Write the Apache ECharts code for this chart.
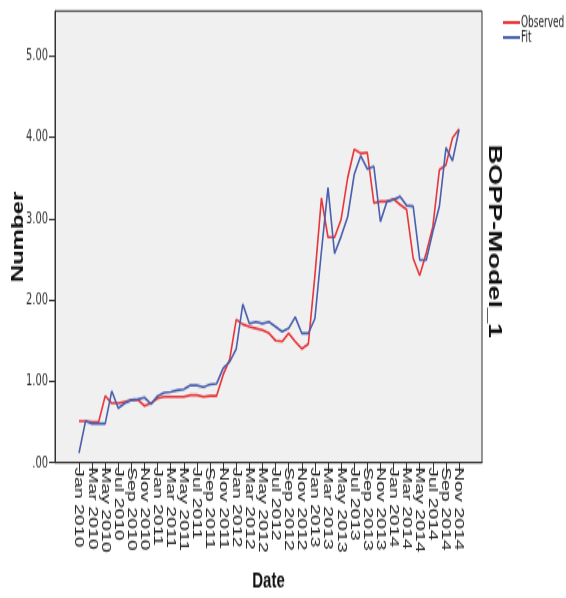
<!DOCTYPE html>
<html><head><meta charset="utf-8">
<script src="https://cdn.jsdelivr.net/npm/echarts@6/dist/echarts.min.js"></script>
<style>
html,body{margin:0;padding:0;background:#fff;overflow:hidden;width:566px;height:598px}
#wrap{width:566px;height:399px;transform:scaleY(1.4987);transform-origin:0 0}
</style></head><body><div id="wrap"></div>
<script>
const dates = ["Jan 2010","Feb 2010","Mar 2010","Apr 2010","May 2010","Jun 2010","Jul 2010","Aug 2010","Sep 2010","Oct 2010","Nov 2010","Dec 2010",
"Jan 2011","Feb 2011","Mar 2011","Apr 2011","May 2011","Jun 2011","Jul 2011","Aug 2011","Sep 2011","Oct 2011","Nov 2011","Dec 2011",
"Jan 2012","Feb 2012","Mar 2012","Apr 2012","May 2012","Jun 2012","Jul 2012","Aug 2012","Sep 2012","Oct 2012","Nov 2012","Dec 2012",
"Jan 2013","Feb 2013","Mar 2013","Apr 2013","May 2013","Jun 2013","Jul 2013","Aug 2013","Sep 2013","Oct 2013","Nov 2013","Dec 2013",
"Jan 2014","Feb 2014","Mar 2014","Apr 2014","May 2014","Jun 2014","Jul 2014","Aug 2014","Sep 2014","Oct 2014","Nov 2014"];
const observed = [0.51,0.51,0.50,0.50,0.82,0.73,0.73,0.75,0.77,0.77,0.70,0.73,
0.79,0.81,0.81,0.81,0.81,0.83,0.83,0.81,0.82,0.82,1.08,1.27,
1.76,1.70,1.67,1.65,1.63,1.59,1.50,1.49,1.59,1.49,1.40,1.46,
2.30,3.25,2.77,2.77,2.99,3.50,3.85,3.80,3.81,3.19,3.21,3.21,
3.24,3.17,3.11,2.51,2.30,2.58,2.90,3.60,3.66,3.99,4.10];
const fit = [0.12,0.51,0.48,0.48,0.48,0.88,0.67,0.73,0.77,0.78,0.80,0.72,
0.82,0.86,0.87,0.89,0.90,0.95,0.95,0.93,0.96,0.97,1.16,1.24,
1.40,1.95,1.71,1.73,1.71,1.73,1.67,1.61,1.65,1.79,1.59,1.59,
1.77,2.60,3.38,2.57,2.78,3.02,3.54,3.77,3.61,3.64,2.96,3.21,
3.23,3.27,3.16,3.15,2.49,2.49,2.84,3.15,3.87,3.71,4.09];
const xTickIdx = [0,2,4,6,8,10,12,14,16,18,20,22,24,26,28,30,32,34,36,38,40,42,44,46,48,50,52,54,56,58];
const yTicks = [0,1,2,3,4,5];

const chart = echarts.init(document.getElementById('wrap'), null, {renderer:'canvas', width:566, height:399});
const font = '"Liberation Sans", Arial, sans-serif';
const narrow = '"Liberation Sans Narrow", "DejaVu Sans Condensed", Arial, sans-serif';
chart.setOption({
  animation:false,
  backgroundColor:'#ffffff',
  textStyle:{fontFamily:font},
  legend:{
    orient:'vertical', left:503, top:10, padding:0, itemWidth:17, itemHeight:2, itemGap:0, icon:'rect',
    textStyle:{fontSize:10, fontFamily:narrow, color:'#222', lineHeight:9, padding:[0,0,0,-4]},
    data:['Observed','Fit']
  },
  grid:{left:55, right:84, top:7.3, bottom:90.3, outerBoundsMode:'none', containLabel:false,
    show:true, backgroundColor:'#f0f0f0', borderColor:'#333', borderWidth:1},
  xAxis:{
    type:'value', min:-3.66, max:61.5,
    name:'Date', nameLocation:'middle', nameGap:72,
    nameTextStyle:{fontSize:15, fontWeight:'bold', color:'#111'},
    axisLine:{show:true, onZero:false, lineStyle:{color:'#333'}},
    axisTick:{show:true, length:7, customValues:xTickIdx, lineStyle:{color:'#333'}},
    axisLabel:{customValues:xTickIdx, rotate:-90, margin:3, fontSize:13, lineHeight:12, color:'#222',
      showMinLabel:true, showMaxLabel:true, hideOverlap:false,
      formatter:function(v){return dates[Math.round(v)];}},
    splitLine:{show:false}
  },
  yAxis:{
    type:'value', min:0, max:5.55,
    name:'Number', nameLocation:'middle', nameGap:28, nameRotate:90, nameMoveOverlap:false,
    nameTextStyle:{fontSize:16, fontWeight:'bold', color:'#111'},
    axisLine:{show:true, onZero:false, lineStyle:{color:'#333'}},
    axisTick:{show:true, length:6, customValues:yTicks, lineStyle:{color:'#333'}},
    axisLabel:{customValues:yTicks, margin:7, fontSize:11, color:'#333', fontFamily:narrow,
      showMinLabel:true, showMaxLabel:true,
      formatter:function(v){return v===0?'.00':v.toFixed(2);}},
    splitLine:{show:false}
  },
  series:[
    {name:'Observed', type:'line', symbol:'none', data:observed.map(function(v,i){return [i,v];}),
      lineStyle:{color:'#e8363a', width:1.6}, itemStyle:{color:'#e8363a'}},
    {name:'Fit', type:'line', symbol:'none', data:fit.map(function(v,i){return [i,v];}),
      lineStyle:{color:'#4a5fae', width:1.6}, itemStyle:{color:'#4a5fae'}}
  ],
  graphic:[{
    type:'text', x:494, y:161, rotation:-Math.PI/2,
    style:{text:'BOPP-Model_1', font:'bold 18px ' + font, fill:'#111', align:'center', verticalAlign:'middle'}
  }]
});
</script></body></html>
